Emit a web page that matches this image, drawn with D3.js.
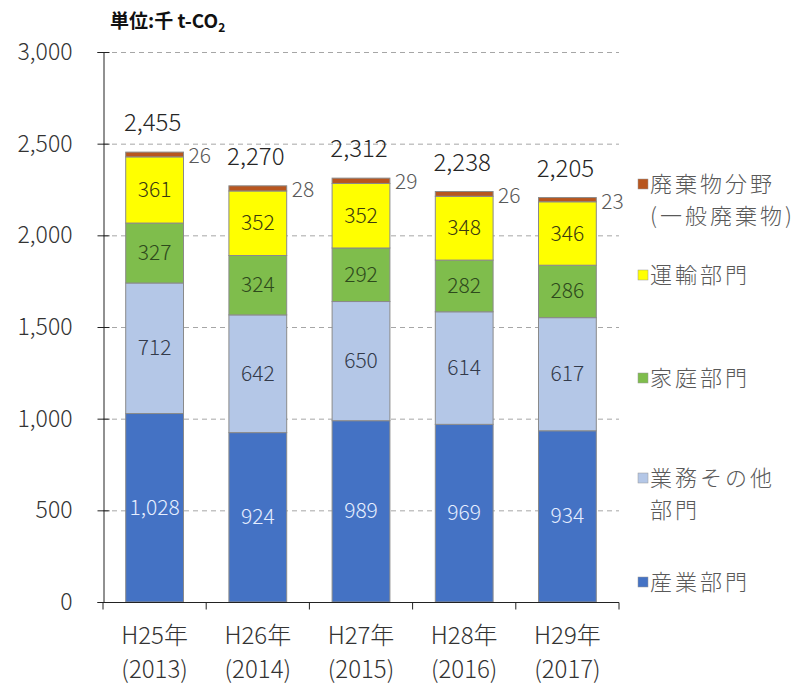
<!DOCTYPE html>
<html>
<head>
<meta charset="utf-8">
<script src="https://cdn.jsdelivr.net/npm/d3@7"></script>
<style>
  body { margin: 0; background: #fff; }
  svg { display: block; font-family: "Noto Sans CJK JP", "Noto Sans", sans-serif; font-weight: 300; }
</style>
</head>
<body>
<div id="chart"></div>
<script>
// データ
const years = ["H25年|(2013)", "H26年|(2014)", "H27年|(2015)", "H28年|(2016)", "H29年|(2017)"];
const sangyo = [1028, 924, 989, 969, 934];      // 産業部門
const gyomu = [712, 642, 650, 614, 617];        // 業務その他部門
const katei = [327, 324, 292, 282, 286];        // 家庭部門
const unyu = [361, 352, 352, 348, 346];         // 運輸部門
const haiki = [26, 28, 29, 26, 23];             // 廃棄物分野
const totals = [2455, 2270, 2312, 2238, 2205];
const yTicks = [0, 500, 1000, 1500, 2000, 2500, 3000];

const seriesNames = ["sangyo", "gyomu", "katei", "unyu", "haiki"];
const seriesColors = ["#4472c4", "#b4c7e7", "#7fbd4c", "#ffff00", "#b8561f"];
const labelColors = ["#e6eeff", "#333a4a", "#2e4a1c", "#3a3a10", null];
const legendLabels = [
    ["産業部門"],
    ["業務その他", "部門"],
    ["家庭部門"],
    ["運輸部門"],
    ["廃棄物分野", "(一般廃棄物)"]
];

const width = 809;
const height = 684;

const svg = d3.select("#chart")
    .append("svg")
    .attr("width", width)
    .attr("height", height);

// スケール
const x = d3.scaleBand()
    .domain(years)
    .range([103, 619])
    .paddingInner(0.44)
    .paddingOuter(0.22);

const y = d3.scaleLinear()
    .domain([0, 3000])
    .range([602, 52]);

// テーブル作成
const table = years.map((yr, i) => ({
    year: yr, sangyo: sangyo[i], gyomu: gyomu[i], katei: katei[i], unyu: unyu[i], haiki: haiki[i], total: totals[i]
}));
const stacked = d3.stack().keys(seriesNames)(table);

// グリッド線
svg.append("g")
    .selectAll("line")
    .data(yTicks.filter(d => d > 0))
    .enter()
    .append("line")
    .attr("x1", 103)
    .attr("x2", 619)
    .attr("y1", d => y(d) + 0.5)
    .attr("y2", d => y(d) + 0.5)
    .attr("stroke", "#a6a6a6")
    .attr("stroke-dasharray", "5,4");

// 棒グラフ
stacked.forEach((layer, si) => {
    svg.append("g")
        .selectAll("rect")
        .data(layer)
        .enter()
        .append("rect")
        .attr("x", d => x(d.data.year))
        .attr("y", d => y(d[1]))
        .attr("width", x.bandwidth())
        .attr("height", d => y(d[0]) - y(d[1]))
        .attr("fill", seriesColors[si])
        .attr("stroke", "#8a8a8a")
        .attr("stroke-width", 1);

    if (labelColors[si]) {
        svg.append("g")
            .selectAll("text")
            .data(layer)
            .enter()
            .append("text")
            .attr("x", d => x(d.data.year) + x.bandwidth() / 2)
            .attr("y", d => (y(d[0]) + y(d[1])) / 2 + 7)
            .attr("text-anchor", "middle")
            .attr("font-size", "21px")
            .attr("fill", labelColors[si])
            .text(d => d3.format(",")(d.data[seriesNames[si]]));
    } else {
        // 廃棄物分野は棒の右側に表示
        svg.append("g")
            .selectAll("text")
            .data(layer)
            .enter()
            .append("text")
            .attr("x", d => x(d.data.year) + x.bandwidth() + 5)
            .attr("y", d => y(d[1]) + 11)
            .attr("font-size", "21px")
            .attr("fill", "#595959")
            .text(d => d.data.haiki);
    }
});

// 合計ラベル
svg.append("g")
    .selectAll("text")
    .data(table)
    .enter()
    .append("text")
    .attr("x", d => x(d.year) + x.bandwidth() / 2 - 2)
    .attr("y", d => y(d.total) - 21)
    .attr("text-anchor", "middle")
    .attr("font-size", "24px")
    .attr("fill", "#262626")
    .text(d => d3.format(",")(d.total));

// Y軸
const yAxis = svg.append("g")
    .attr("transform", "translate(103.5,0)")
    .call(d3.axisLeft(y).tickValues(yTicks).tickFormat(d3.format(",")).tickSize(6).tickPadding(25));
yAxis.select(".domain").attr("stroke", "#222");
yAxis.selectAll(".tick line").attr("x2", 6).attr("x1", -6).attr("stroke", "#222");
yAxis.selectAll(".tick text")
    .attr("font-size", "23px")
    .attr("font-family", "\"Noto Sans CJK JP\", sans-serif")
    .attr("fill", "#333");

// X軸
const xAxis = svg.append("g")
    .attr("transform", "translate(0,602.5)");
xAxis.append("line")
    .attr("x1", 103).attr("x2", 619)
    .attr("stroke", "#222");
xAxis.selectAll(".xt")
    .data(d3.range(years.length + 1))
    .enter()
    .append("line")
    .attr("x1", i => 103 + i * x.step())
    .attr("x2", i => 103 + i * x.step())
    .attr("y1", 0)
    .attr("y2", 7)
    .attr("stroke", "#222");

const xLabels = xAxis.selectAll(".xl")
    .data(years)
    .enter()
    .append("text")
    .attr("text-anchor", "middle")
    .attr("font-size", "24px")
    .attr("fill", "#333");
xLabels.each(function (d) {
    const parts = d.split("|");
    const t = d3.select(this);
    t.append("tspan").attr("x", x(d) + x.bandwidth() / 2).attr("y", 41).text(parts[0]);
    t.append("tspan").attr("x", x(d) + x.bandwidth() / 2).attr("y", 75).text(parts[1]);
});

// 単位
const unit = svg.append("text")
    .attr("x", 110)
    .attr("y", 28)
    .attr("font-size", "19px")
    .attr("font-weight", "bold")
    .attr("fill", "#111");
unit.append("tspan").text("単位:千 t-CO");
unit.append("tspan").attr("font-size", "12px").attr("dy", 4).text("2");

// 凡例
const legendY = [582, 478, 378, 275, 184];
const legend = svg.append("g")
    .selectAll("g")
    .data(legendLabels)
    .enter()
    .append("g")
    .attr("transform", (d, i) => `translate(638, ${legendY[i]})`);

legend.append("rect")
    .attr("x", 0)
    .attr("y", -5)
    .attr("width", 10)
    .attr("height", 10)
    .attr("fill", (d, i) => seriesColors[i])
    .attr("stroke", "#999")
    .attr("stroke-width", 0.5);

legend.each(function (lines) {
    const t = d3.select(this).append("text")
        .attr("font-size", "22px")
        .attr("letter-spacing", "3px")
        .attr("fill", "#595959");
    lines.forEach((ln, k) => {
        t.append("tspan")
            .attr("x", 12)
            .attr("y", 8 + k * 32)
            .text(ln);
    });
});
</script>
</body>
</html>
